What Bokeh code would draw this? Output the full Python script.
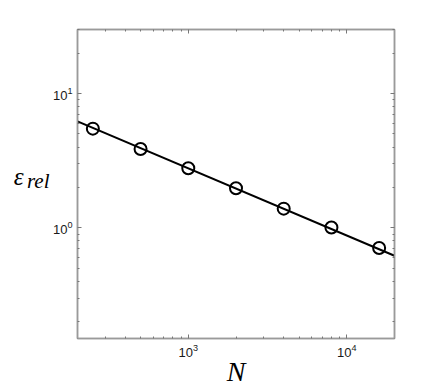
from bokeh.plotting import figure
from bokeh.models import (Range1d, LogAxis, FixedTicker, LogTickFormatter)
from bokeh.embed import file_html
from bokeh.resources import INLINE

# data
N_pts = [250, 500, 1000, 2000, 4000, 8000, 16000]
err_pts = [5.48, 3.87, 2.78, 1.97, 1.39, 1.005, 0.708]
fit_N = [200, 20000]
fit_err = [6.2, 0.62]

x_major = [1e3, 1e4]
y_major = [1e0, 1e1]
x_minor = [m * 10 ** k for k in (2, 3, 4) for m in range(2, 10) if 200 <= m * 10 ** k <= 20000]
y_minor = [m * 10 ** k for k in (-1, 0, 1) for m in range(2, 10) if 0.15 <= m * 10 ** k <= 30]

x_title = "N"
y_title_main = "ε"
y_title_sub = "rel"

p = figure(width=436, height=389, x_axis_type="log", y_axis_type="log",
           x_range=Range1d(200, 20000), y_range=Range1d(0.15, 30),
           output_backend="svg", toolbar_location=None,
           min_border_left=77, min_border_right=42, min_border_top=29, min_border_bottom=50)
p.xgrid.visible = False
p.ygrid.visible = False
p.outline_line_color = "#9a9a9a"
p.outline_line_width = 1.5
p.background_fill_color = "white"
p.border_fill_color = "white"

axis_gray = "#9a9a9a"
serif = "Liberation Serif"

def style(ax, show_labels):
    ax.axis_line_color = axis_gray
    ax.axis_line_width = 1.5
    ax.major_tick_in = 4
    ax.major_tick_out = 0
    ax.minor_tick_in = 2
    ax.minor_tick_out = 0
    ax.major_tick_line_color = "#777777"
    ax.minor_tick_line_color = "#777777"
    ax.major_label_text_font = "Liberation Sans"
    ax.major_label_text_font_size = "13px"
    ax.major_label_text_color = "#1a1a1a"
    if not show_labels:
        ax.major_label_text_alpha = 0
    ax.formatter = LogTickFormatter()

p.xaxis.ticker = FixedTicker(ticks=x_major, minor_ticks=x_minor)
p.yaxis.ticker = FixedTicker(ticks=y_major, minor_ticks=y_minor)
style(p.xaxis[0], True)
style(p.yaxis[0], True)
p.xaxis.major_label_standoff = 5
p.yaxis.major_label_standoff = 5

p.xaxis.axis_label = x_title
p.xaxis.axis_label_text_font = serif
p.xaxis.axis_label_text_font_style = "italic"
p.xaxis.axis_label_text_font_size = "28px"
p.xaxis.axis_label_text_color = "black"
p.xaxis.axis_label_standoff = -4

def title_axis(text, size, standoff, line_height):
    # empty axis that only carries a horizontal label; a trailing empty line
    # with a reduced line height lifts the text a little above the centre
    return LogAxis(ticker=FixedTicker(ticks=[], minor_ticks=[]), axis_line_color=None,
                   major_tick_out=0, minor_tick_out=0, major_tick_in=0, minor_tick_in=0,
                   major_label_standoff=0, axis_label=text + "\n",
                   axis_label_orientation="horizontal", axis_label_standoff=standoff,
                   axis_label_text_font=serif, axis_label_text_font_style="italic",
                   axis_label_text_font_size=size, axis_label_text_color="black",
                   axis_label_text_line_height=line_height)

p.add_layout(title_axis(y_title_sub, "21px", 0, 0.25), "left")
p.add_layout(title_axis(y_title_main, "25px", 0, 0.55), "left")

top = LogAxis(ticker=FixedTicker(ticks=x_major, minor_ticks=x_minor))
right = LogAxis(ticker=FixedTicker(ticks=y_major, minor_ticks=y_minor))
style(top, False)
style(right, False)
p.add_layout(top, "above")
p.add_layout(right, "right")

p.line(fit_N, fit_err, line_color="black", line_width=2)
p.scatter(N_pts, err_pts, marker="circle", size=12, fill_color=None,
          line_color="black", line_width=2)

open("out.html", "w").write(file_html(p, INLINE))
